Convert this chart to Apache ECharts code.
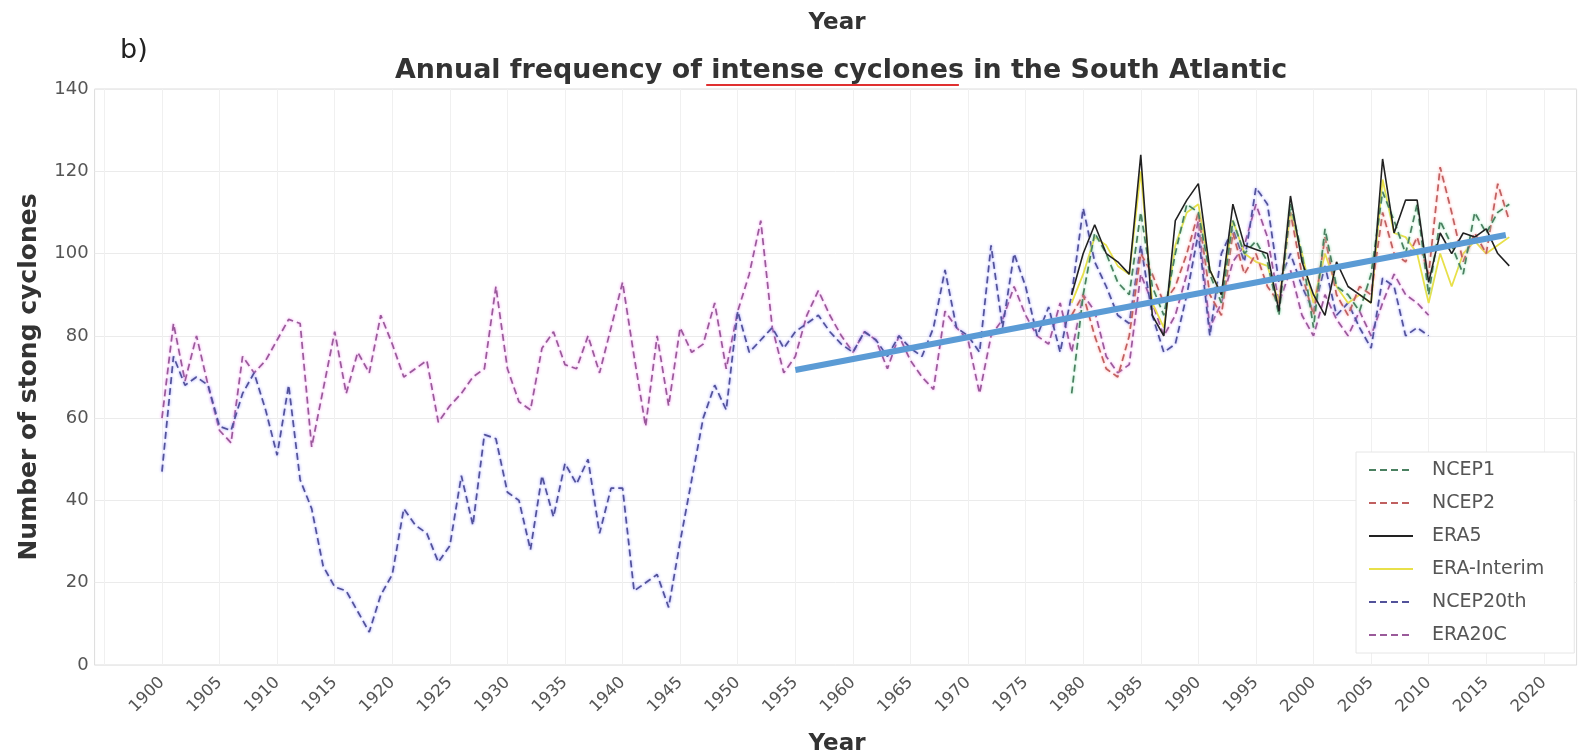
<!DOCTYPE html>
<html>
<head>
<meta charset="utf-8">
<script src="https://cdn.jsdelivr.net/npm/echarts@6/dist/echarts.min.js"></script>
<style>
html,body{margin:0;padding:0;background:#fff;}
#chart{width:1581px;height:755px;}
</style>
</head>
<body>
<div id="chart"></div>
<script>
// ---- data ----
const years20C = [];
for (let y = 1900; y <= 2010; y++) years20C.push(y);
const yearsRe = [];
for (let y = 1979; y <= 2017; y++) yearsRe.push(y);

const ncep20th = [
 47,75,68,70,68,58,57,66,71,62,
 51,68,45,38,24,19,18,13,8,17,
 22,38,34,32,25,29,46,34,56,55,
 42,40,28,46,36,49,44,50,32,43,
 43,18,20,22,14,30,45,60,68,62,
 86,76,79,82,77,81,83,85,81,78,
 76,81,79,75,80,77,75,82,96,82,
 80,76,102,82,100,92,80,87,76,90,
 111,98,92,85,83,102,85,76,78,90,
 105,80,100,106,98,116,112,93,100,92,
 86,97,85,88,82,77,94,92,80,82,
 80
];
const era20c = [
 60,83,69,80,68,57,54,75,71,74,
 79,84,83,53,67,81,66,76,71,85,
 78,70,72,74,59,63,66,70,72,92,
 72,64,62,77,81,73,72,80,71,82,
 93,75,58,80,63,82,76,78,88,72,
 86,95,108,82,71,75,85,91,85,80,
 76,81,79,72,80,74,70,67,86,82,
 79,66,80,84,92,85,80,78,88,76,
 90,86,75,71,73,95,88,80,85,95,
 108,82,88,98,102,112,104,88,96,85,
 80,90,84,80,86,80,88,95,90,88,
 85
];
const ncep1 = [
 66,90,105,100,93,90,110,92,85,100,
 112,110,95,88,108,100,103,98,85,112,
 100,82,106,92,90,86,95,115,108,100,
 112,90,108,102,95,110,105,110,112
];
const ncep2 = [
 85,90,80,72,70,80,100,95,88,92,
 100,110,90,85,105,95,100,92,88,110,
 95,85,104,90,85,92,90,110,100,98,
 104,95,121,110,98,105,100,117,108
];
const era5 = [
 90,100,107,100,98,95,124,85,80,108,
 113,117,96,90,112,102,101,100,86,114,
 98,90,85,98,92,90,88,123,105,113,
 113,93,105,100,105,104,106,100,97
];
const eraInterim = [
 88,95,104,102,97,95,120,88,82,102,
 110,112,96,90,108,100,98,97,88,110,
 100,88,100,92,88,90,88,118,105,104,
 100,88,100,92,100,103,100,102,104
];
const trendYears = [1955, 2016.7];
const trendValues = [71.7, 104.5];

const xTickLabelsFrom = 1900;
const xTickLabelsTo = 2020;

const titleText = 'Annual frequency of intense cyclones in the South Atlantic';
const titlePre = 'Annual frequency of ';
const titleMarked = 'intense cyclones';

// ---- helpers ----
function pairs(xs, vs){ return vs.map((v,i)=>[xs[i], v]); }

// fit title width to the reference (~893px) and place the underline under the marked words
const ctx = document.createElement('canvas').getContext('2d');
const TFONT = '"DejaVu Sans"';
let tSize = 26;
ctx.font = 'bold ' + tSize + 'px ' + TFONT;
const w0 = ctx.measureText(titleText).width;
tSize = Math.round(tSize * 893 / w0 * 10) / 10;
ctx.font = 'bold ' + tSize + 'px ' + TFONT;
const tW = ctx.measureText(titleText).width;
const preW = ctx.measureText(titlePre).width;
const markW = ctx.measureText(titleMarked).width;
const titleCX = 836;
const ulX1 = titleCX - tW/2 + preW;
const ulX2 = ulX1 + markW;

const chart = echarts.init(document.getElementById('chart'), null, {renderer:'canvas'});

function dashSeries(name, xs, vs, color, glow){
  return {
    name, type:'line', xAxisIndex:0, yAxisIndex:0,
    data: pairs(xs, vs), symbol:'none', smooth:false,
    lineStyle:{color, width:1.7, type:[7,4], shadowColor:glow, shadowBlur:3},
    itemStyle:{color}, z:3
  };
}

const option = {
  animation:false,
  backgroundColor:'#fff',
  title:[
    {text:'Year', left:832, top:7, textAlign:'center',
     textStyle:{fontFamily:'DejaVu Sans', fontWeight:'bold', fontSize:23, color:'#333'}},
    {text:'b)', left:115, top:32,
     textStyle:{fontFamily:'DejaVu Sans', fontWeight:'normal', fontSize:27, color:'#222'}},
    {text:titleText, left:titleCX, top:69 - tSize*0.62, textAlign:'center',
     textStyle:{fontFamily:'DejaVu Sans', fontWeight:'bold', fontSize:tSize, color:'#333'}},
    {text:'Year', left:832, top:728, textAlign:'center',
     textStyle:{fontFamily:'DejaVu Sans', fontWeight:'bold', fontSize:23, color:'#333'}}
  ],
  graphic:[
    {type:'line', shape:{x1:ulX1, y1:85, x2:ulX2, y2:85}, style:{stroke:'#e03030', lineWidth:2}, z:10}
  ],
  grid:[
    {left:104.4, right:37.2, top:89, bottom:90, show:false},
    {left:94.6, right:4.4, top:89, bottom:90, show:true, borderColor:'#dcdcdc', borderWidth:1, backgroundColor:'#fff'}
  ],
  xAxis:[
    {type:'value', gridIndex:0, min:1895, max:2020, interval:5,
     axisLine:{show:false}, axisTick:{show:false},
     splitLine:{show:true, lineStyle:{color:'#f0f0f0', width:1}},
     axisLabel:{rotate:45, fontSize:16.5, color:'#555', fontFamily:'DejaVu Sans', margin:15,
       formatter:v => (v>=xTickLabelsFrom && v<=xTickLabelsTo) ? String(v) : ''}},
    {type:'value', gridIndex:1, min:0, max:1, show:false}
  ],
  yAxis:[
    {type:'value', gridIndex:0, min:0, max:140, interval:20, show:false},
    {type:'value', gridIndex:1, min:0, max:140, interval:20,
     axisLine:{show:false}, axisTick:{show:false},
     splitLine:{show:true, lineStyle:{color:'#ebebeb', width:1}},
     axisLabel:{fontSize:18, color:'#555', fontFamily:'DejaVu Sans', margin:6},
     name:'Number of stong cyclones', nameLocation:'middle', nameGap:53, nameRotate:90,
     nameTextStyle:{fontFamily:'DejaVu Sans', fontWeight:'bold', fontSize:25, color:'#333'}}
  ],
  legend:{
    orient:'vertical', left:1356, top:452, itemWidth:44, itemHeight:14, itemGap:13,
    backgroundColor:'#fff', borderColor:'#e6e6e6', borderWidth:1, padding:[8,30,8,12],
    itemStyle:{opacity:0},
    textStyle:{fontSize:19, lineHeight:20, color:'#555', fontFamily:'DejaVu Sans', padding:[0,0,0,14]},
    data:['NCEP1','NCEP2','ERA5','ERA-Interim','NCEP20th','ERA20C']
  },
  series:[
    dashSeries('ERA20C', years20C, era20c, '#9a5a9a', '#f090f0'),
    dashSeries('NCEP20th', years20C, ncep20th, '#52529a', '#9090ff'),
    {name:'ERA-Interim', type:'line', data:pairs(yearsRe, eraInterim), symbol:'none',
     lineStyle:{color:'#e8e04a', width:1.8}, itemStyle:{color:'#e8e04a'}, z:3},
    dashSeries('NCEP2', yearsRe, ncep2, '#c06060', '#ff9a9a'),
    dashSeries('NCEP1', yearsRe, ncep1, '#4a8060', '#8fe0b0'),
    {name:'ERA5', type:'line', data:pairs(yearsRe, era5), symbol:'none',
     lineStyle:{color:'#222', width:1.6}, itemStyle:{color:'#222'}, z:4},
    {name:'trend', type:'line', data:pairs(trendYears, trendValues), symbol:'none',
     lineStyle:{color:'#5b9bd5', width:6}, itemStyle:{color:'#5b9bd5'}, z:6, silent:true}
  ]
};
chart.setOption(option);
</script>
</body>
</html>
